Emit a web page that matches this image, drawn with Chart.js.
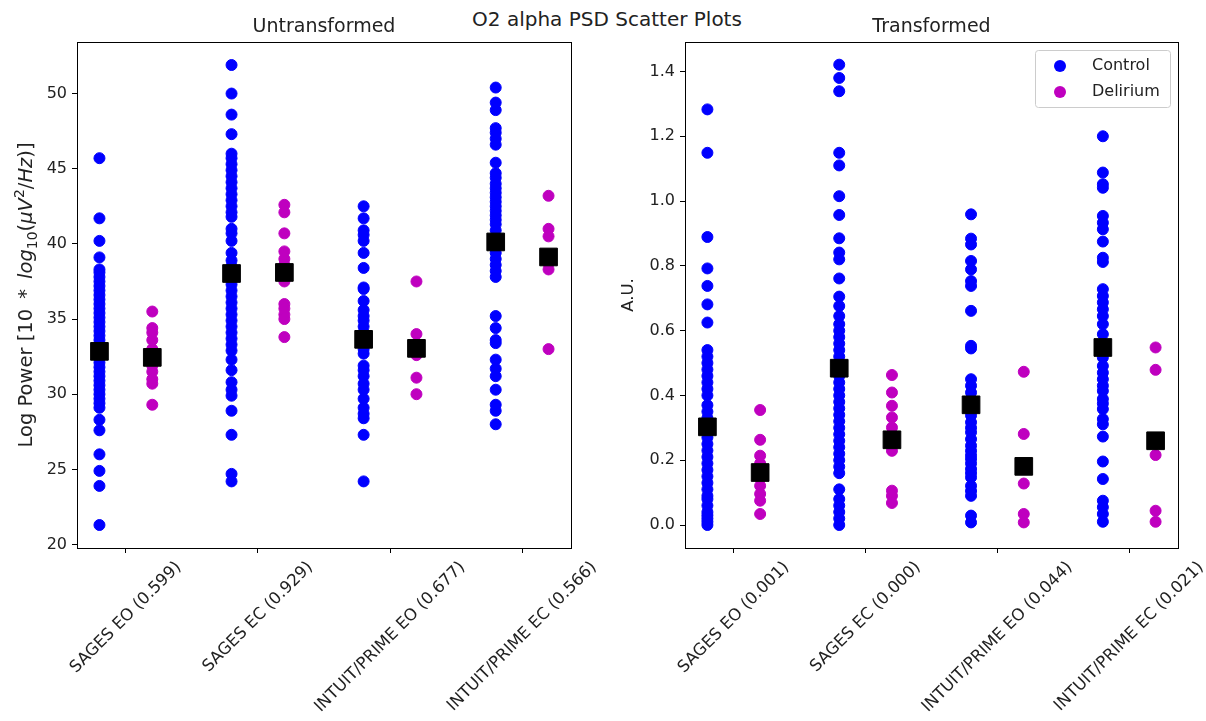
<!DOCTYPE html>
<html>
<head>
<meta charset="utf-8">
<script src="https://cdn.jsdelivr.net/npm/chart.js@4.4.1/dist/chart.umd.min.js"></script>
<style>
    body { margin: 0; background: #fff; width: 1206px; height: 721px; position: relative; overflow: hidden; }
    canvas { position: absolute; top: 0; }
    #left-chart { left: 0; }
    #right-chart { left: 600px; }
    #suptitle {
        position: absolute; top: 9px; left: 0; width: 1214px; text-align: center;
        font: 20px "DejaVu Sans"; line-height: 20px; color: #222;
    }
</style>
</head>
<body>
<div id="suptitle">O2 alpha PSD Scatter Plots</div>
<canvas id="left-chart" width="600" height="721"></canvas>
<canvas id="right-chart" width="606" height="721"></canvas>
<script>
// tick labels (p-values in brackets)
const leftLabels = ['SAGES EO (0.599)', 'SAGES EC (0.929)', 'INTUIT/PRIME EO (0.677)', 'INTUIT/PRIME EC (0.566)'];
const rightLabels = ['SAGES EO (0.001)', 'SAGES EC (0.000)', 'INTUIT/PRIME EO (0.044)', 'INTUIT/PRIME EC (0.021)'];
const leftTicks = [20, 25, 30, 35, 40, 45, 50];
const rightTicks = [0, 0.2, 0.4, 0.6, 0.8, 1.0, 1.2, 1.4];

// Untransformed (log power)
const uSagesEoCtrl = [45.7, 41.7, 40.2, 39.1, 38.3, 38.1, 37.8, 37.5, 37.2, 36.9, 36.6, 36.3, 36.0, 35.7, 35.4, 35.1, 34.8, 34.5, 34.2, 33.9, 33.6, 33.3, 33.0, 32.7, 32.4, 32.1, 31.8, 31.5, 31.2, 30.9, 30.6, 30.3, 30.0, 29.7, 29.4, 29.1, 28.3, 27.6, 26.0, 24.9, 23.9, 21.3];
const uSagesEoDel = [35.5, 34.4, 34.1, 33.6, 33.0, 32.6, 32.3, 31.9, 31.5, 31.0, 30.7, 29.3];
const uSagesEcCtrl = [51.9, 50.0, 48.6, 47.3, 46.0, 45.7, 45.3, 44.9, 44.5, 44.1, 43.7, 43.3, 42.9, 42.5, 42.1, 41.8, 41.0, 40.7, 40.2, 39.4, 38.9, 38.5, 38.1, 37.7, 37.3, 36.9, 36.5, 36.1, 35.7, 35.3, 34.9, 34.5, 34.1, 33.7, 33.3, 32.9, 32.3, 31.6, 30.8, 30.3, 29.9, 28.9, 27.3, 24.7, 24.2];
const uSagesEcDel = [42.6, 42.1, 40.7, 39.5, 39.0, 38.6, 37.5, 36.0, 35.7, 35.3, 35.0, 33.8];
const uIntuitEoCtrl = [42.5, 41.7, 40.9, 40.6, 40.2, 39.4, 38.4, 37.1, 37.0, 36.2, 35.6, 35.2, 34.9, 34.5, 34.1, 33.8, 33.4, 33.0, 32.7, 31.9, 31.6, 31.2, 30.7, 30.3, 29.7, 29.1, 28.7, 28.4, 27.3, 24.2];
const uIntuitEoDel = [37.5, 34.0, 33.2, 32.6, 31.1, 30.0];
const uIntuitEcCtrl = [50.4, 49.4, 48.9, 47.7, 47.4, 47.0, 46.6, 45.4, 44.7, 44.4, 44.0, 43.7, 43.4, 43.1, 42.8, 42.5, 42.2, 41.9, 41.6, 41.3, 40.9, 40.5, 40.1, 39.4, 39.0, 38.6, 38.2, 37.8, 35.2, 34.4, 33.6, 33.4, 32.3, 31.7, 31.2, 30.3, 29.3, 28.9, 28.0];
const uIntuitEcDel = [43.2, 41.0, 40.5, 38.7, 38.3, 33.0];
const uCtrlMeans = [32.85, 38.03, 33.65, 40.13];
const uDelMeans = [32.45, 38.1, 33.05, 39.13];

// Transformed (A.U.)
const tSagesEoCtrl = [1.283, 1.149, 0.889, 0.792, 0.738, 0.681, 0.625, 0.54, 0.52, 0.50, 0.48, 0.46, 0.44, 0.42, 0.40, 0.37, 0.35, 0.33, 0.31, 0.29, 0.27, 0.25, 0.23, 0.21, 0.19, 0.17, 0.15, 0.13, 0.11, 0.09, 0.08, 0.06, 0.04, 0.03, 0.02, 0.01, 0.0];
const tSagesEoDel = [0.355, 0.263, 0.214, 0.19, 0.16, 0.145, 0.121, 0.096, 0.075, 0.034];
const tSagesEcCtrl = [1.421, 1.380, 1.339, 1.149, 1.11, 1.015, 0.957, 0.885, 0.841, 0.82, 0.761, 0.705, 0.676, 0.645, 0.62, 0.60, 0.58, 0.56, 0.54, 0.52, 0.50, 0.48, 0.46, 0.44, 0.42, 0.40, 0.38, 0.36, 0.34, 0.32, 0.30, 0.28, 0.26, 0.24, 0.22, 0.20, 0.18, 0.16, 0.11, 0.08, 0.06, 0.04, 0.02, 0.0];
const tSagesEcDel = [0.463, 0.409, 0.368, 0.332, 0.301, 0.27, 0.25, 0.229, 0.106, 0.09, 0.068];
const tIntuitEoCtrl = [0.959, 0.884, 0.866, 0.815, 0.789, 0.753, 0.738, 0.661, 0.553, 0.545, 0.45, 0.43, 0.409, 0.39, 0.36, 0.338, 0.317, 0.30, 0.286, 0.265, 0.245, 0.229, 0.215, 0.204, 0.19, 0.173, 0.16, 0.147, 0.121, 0.105, 0.09, 0.029, 0.008];
const tIntuitEoDel = [0.473, 0.281, 0.128, 0.034, 0.008];
const tIntuitEcCtrl = [1.2, 1.088, 1.052, 1.041, 0.954, 0.933, 0.913, 0.875, 0.825, 0.812, 0.728, 0.707, 0.687, 0.666, 0.645, 0.62, 0.589, 0.56, 0.517, 0.491, 0.47, 0.45, 0.43, 0.414, 0.389, 0.375, 0.358, 0.327, 0.311, 0.273, 0.196, 0.142, 0.075, 0.055, 0.034, 0.01];
const tIntuitEcDel = [0.548, 0.479, 0.216, 0.044, 0.01];
const tCtrlMeans = [0.303, 0.484, 0.371, 0.548];
const tDelMeans = [0.162, 0.263, 0.181, 0.26];

const CTRL = '#0000ff';
const DEL = '#bf00bf';
const FONT = '"DejaVu Sans"';
const TEXT = '#222';

// groups sit at 0..3, control left of the tick, delirium right
function toPoints(lists, offset) {
    return lists.flatMap((vals, i) => vals.map(v => ({ x: i + offset, y: v })));
}

// y label pieces: [text, style] with style r=regular, i=italic, sub, sup
function drawLabel(ctx, parts, size, x, y) {
    const small = Math.round(size * 0.7);
    const fontOf = s => s === 'i' ? `italic ${size}px ${FONT}` : (s === 'sub' || s === 'sup') ? `${small}px ${FONT}` : `${size}px ${FONT}`;
    let total = 0;
    parts.forEach(([t, s]) => { ctx.font = fontOf(s); total += ctx.measureText(t).width; });
    ctx.save();
    ctx.translate(x, y);
    ctx.rotate(-Math.PI / 2);
    ctx.textAlign = 'left';
    ctx.textBaseline = 'alphabetic';
    let cx = -total / 2;
    parts.forEach(([t, s]) => {
        ctx.font = fontOf(s);
        const dy = s === 'sub' ? size * 0.25 : s === 'sup' ? -size * 0.42 : 0;
        ctx.fillText(t, cx, dy);
        cx += ctx.measureText(t).width;
    });
    ctx.restore();
}

const decor = {
    id: 'decor',
    afterDraw(chart, args, opts) {
        const ctx = chart.ctx;
        const a = chart.chartArea;
        ctx.save();
        ctx.strokeStyle = '#000';
        ctx.lineWidth = 1;
        ctx.strokeRect(Math.round(a.left) + 0.5, Math.round(a.top) + 0.5, Math.round(a.right - a.left), Math.round(a.bottom - a.top));

        ctx.fillStyle = TEXT;
        ctx.font = `19px ${FONT}`;
        ctx.textAlign = 'center';
        ctx.textBaseline = 'alphabetic';
        ctx.fillText(opts.title, (a.left + a.right) / 2, a.top - 10);

        // rotated tick labels, centred under the tick like matplotlib
        const xs = chart.scales.x;
        ctx.font = `16.5px ${FONT}`;
        opts.labels.forEach((lab, i) => {
            const px = xs.getPixelForValue(i);
            const w = ctx.measureText(lab).width;
            const half = (w + 19) * Math.SQRT1_2 / 2;
            ctx.save();
            ctx.translate(px, a.bottom + 10 + half);
            ctx.rotate(-Math.PI / 4);
            ctx.textAlign = 'center';
            ctx.textBaseline = 'middle';
            ctx.fillText(lab, 0, 0);
            ctx.restore();
        });

        drawLabel(ctx, opts.ylabel, opts.ylabelSize, opts.ylabelX, (a.top + a.bottom) / 2);

        if (opts.legend) {
            const lx = a.right - 143, ly = a.top + 8;
            ctx.beginPath();
            ctx.roundRect(lx + 0.5, ly + 0.5, 135, 57, 3);
            ctx.fillStyle = 'rgba(255,255,255,0.8)';
            ctx.fill();
            ctx.strokeStyle = '#cccccc';
            ctx.stroke();
            const entries = chart.data.datasets.filter(d => d.inLegend);
            entries.forEach((d, k) => {
                const cy = ly + 16 + k * 26;
                ctx.beginPath();
                ctx.arc(lx + 25, cy, 6, 0, Math.PI * 2);
                ctx.fillStyle = d.backgroundColor;
                ctx.fill();
                ctx.fillStyle = TEXT;
                ctx.font = `16px ${FONT}`;
                ctx.textAlign = 'left';
                ctx.textBaseline = 'middle';
                ctx.fillText(d.label, lx + 57, cy);
            });
        }
        ctx.restore();
    }
};

function makePanel(id, p) {
    return new Chart(document.getElementById(id), {
        type: 'scatter',
        data: {
            datasets: [
                {
                    label: 'Mean',
                    data: toPoints(p.ctrlMeans.map(v => [v]), -0.2).concat(toPoints(p.delMeans.map(v => [v]), 0.2)),
                    backgroundColor: '#000', borderColor: '#000', borderWidth: 1,
                    pointStyle: 'rect', pointRadius: 12.5
                },
                {
                    label: 'Control', inLegend: true,
                    data: toPoints(p.ctrl, -0.2),
                    backgroundColor: CTRL, borderColor: CTRL, borderWidth: 1, pointRadius: 5.5
                },
                {
                    label: 'Delirium', inLegend: true,
                    data: toPoints(p.del, 0.2),
                    backgroundColor: DEL, borderColor: DEL, borderWidth: 1, pointRadius: 5.5
                }
            ]
        },
        options: {
            responsive: false,
            animation: false,
            events: [],
            layout: { padding: { top: 42, right: p.padRight, left: 0, bottom: 0 } },
            plugins: {
                legend: { display: false },
                tooltip: { enabled: false },
                decor: { title: p.title, labels: p.labels, ylabel: p.ylabel, ylabelSize: p.ylabelSize, ylabelX: p.ylabelX, legend: p.legend }
            },
            scales: {
                x: {
                    type: 'linear', min: -0.37, max: 3.37,
                    afterBuildTicks: s => { s.ticks = [0, 1, 2, 3].map(v => ({ value: v })); },
                    afterFit: s => { s.height = 173; },
                    ticks: { display: false },
                    grid: { drawOnChartArea: false, drawTicks: true, tickLength: 5, color: '#000' },
                    border: { display: true, color: '#000', width: 1 }
                },
                y: {
                    min: p.yMin, max: p.yMax,
                    afterBuildTicks: s => { s.ticks = p.yTicks.map(v => ({ value: v })); },
                    afterFit: s => { s.width = p.yWidth; },
                    ticks: { color: TEXT, font: { family: 'DejaVu Sans', size: 16 }, padding: 5, callback: p.fmt },
                    grid: { drawOnChartArea: false, drawTicks: true, tickLength: 5, color: '#000' },
                    border: { display: true, color: '#000', width: 1 }
                }
            }
        },
        plugins: [decor]
    });
}

makePanel('left-chart', {
    title: 'Untransformed',
    labels: leftLabels,
    ctrl: [uSagesEoCtrl, uSagesEcCtrl, uIntuitEoCtrl, uIntuitEcCtrl],
    del: [uSagesEoDel, uSagesEcDel, uIntuitEoDel, uIntuitEcDel],
    ctrlMeans: uCtrlMeans, delMeans: uDelMeans,
    yMin: 19.77, yMax: 53.43, yTicks: leftTicks, fmt: v => String(v),
    yWidth: 77, padRight: 29, ylabelX: 32, ylabelSize: 19.5,
    ylabel: [['Log Power [', 'r'], ['10 \u2009*\u2009 ', 'r'], ['log', 'i'], ['10', 'sub'], ['(', 'r'], ['\u03BCV', 'i'], ['2', 'sup'], ['/', 'r'], ['Hz', 'i'], [')]', 'r']],
    legend: false
});

makePanel('right-chart', {
    title: 'Transformed',
    labels: rightLabels,
    ctrl: [tSagesEoCtrl, tSagesEcCtrl, tIntuitEoCtrl, tIntuitEcCtrl],
    del: [tSagesEoDel, tSagesEcDel, tIntuitEoDel, tIntuitEcDel],
    ctrlMeans: tCtrlMeans, delMeans: tDelMeans,
    yMin: -0.071, yMax: 1.491, yTicks: rightTicks, fmt: v => v.toFixed(1),
    yWidth: 85, padRight: 28, ylabelX: 33, ylabelSize: 16.5,
    ylabel: [['A.U.', 'r']],
    legend: true
});
</script>
</body>
</html>
